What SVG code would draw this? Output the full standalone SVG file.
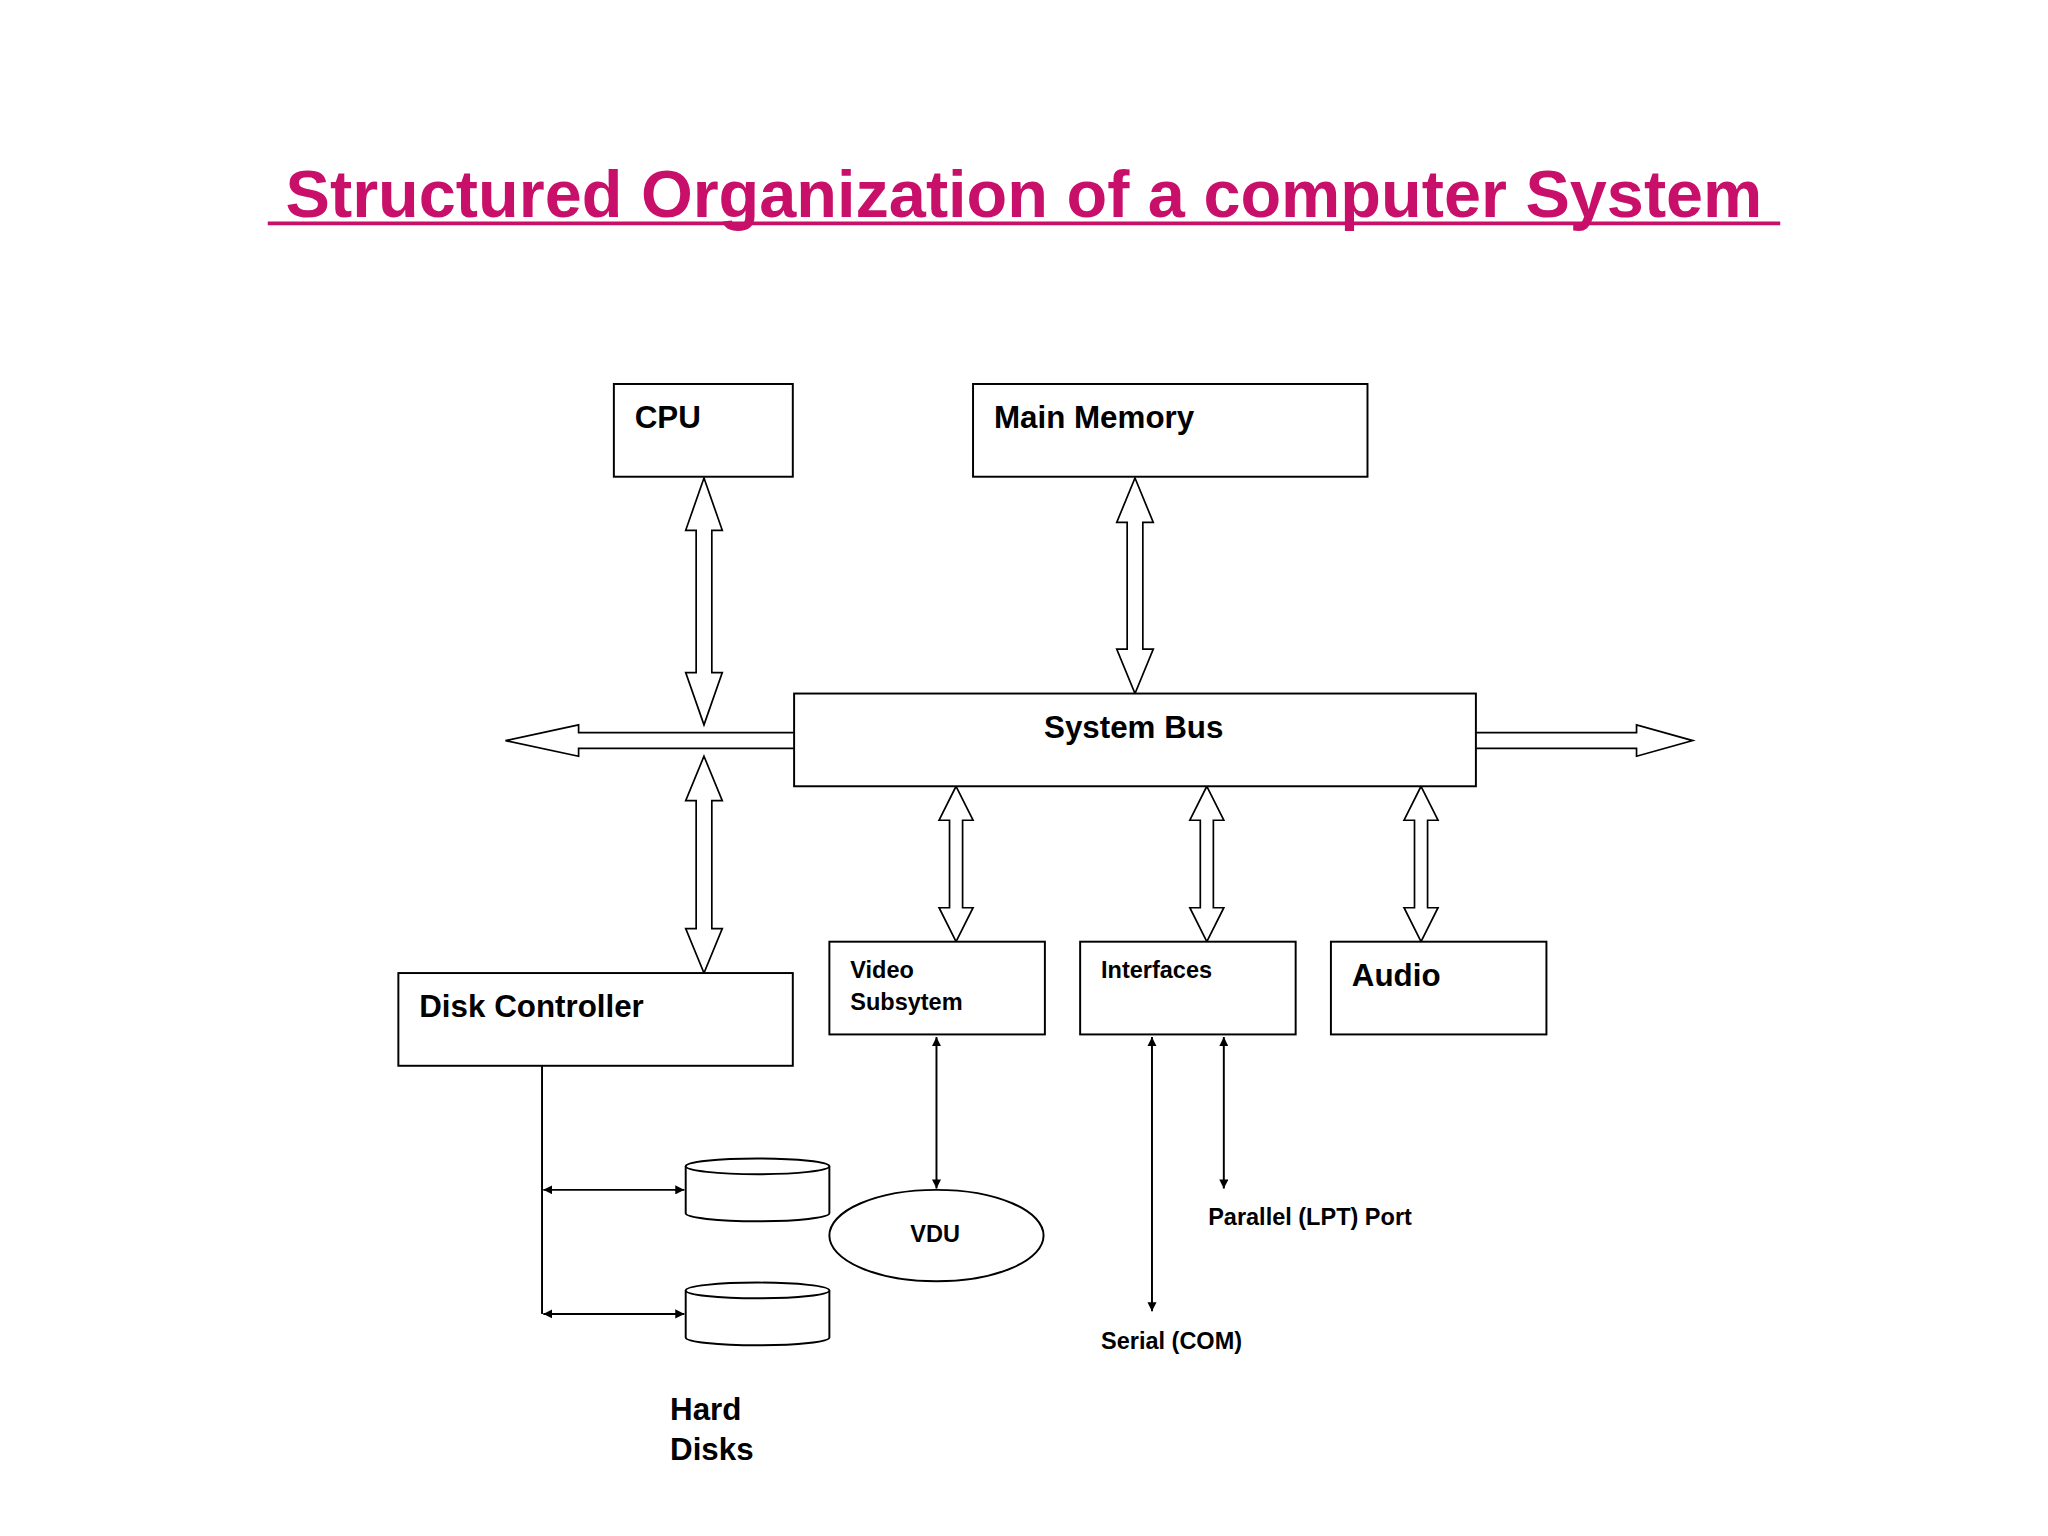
<svg xmlns="http://www.w3.org/2000/svg" width="2048" height="1536" viewBox="0 0 2048 1536">
<defs>
<style>
.box{fill:#fff;stroke:#000;stroke-width:1.5}
.blk{fill:#fff;stroke:#000;stroke-width:1.3}
.ln{fill:none;stroke:#000;stroke-width:1.5}
.t{font-family:"Liberation Sans",Arial,sans-serif;font-weight:bold;fill:#000}
.big{font-size:24px}
.sm{font-size:18px}
</style>
<marker id="ah" viewBox="0 0 10 10" refX="10" refY="5" markerWidth="7" markerHeight="7" orient="auto-start-reverse" markerUnits="userSpaceOnUse"><path d="M0,0 L10,5 L0,10 Z" fill="#000"/></marker>
</defs>
<rect width="2048" height="1536" fill="#fff"/>
<g transform="scale(1.3061)">
<g id="title"><text x="784" y="166" text-anchor="middle" font-family="'Liberation Sans',Arial,sans-serif" font-weight="bold" font-size="51" fill="#C8106A">Structured Organization of a computer System</text><line x1="205" y1="171" x2="1363" y2="171" stroke="#C8106A" stroke-width="3"/></g>
<g id="connectors">
<path class="blk" d="M539,366 L553,406 L545,406 L545,515 L553,515 L539,555 L525,515 L533,515 L533,406 L525,406 Z"/>
<path class="blk" d="M869,366 L883,400 L875,400 L875,497 L883,497 L869,531 L855,497 L863,497 L863,400 L855,400 Z"/>
<path class="blk" d="M539,579 L553,613 L545,613 L545,711 L553,711 L539,745 L525,711 L533,711 L533,613 L525,613 Z"/>
<path class="blk" d="M732,602 L745,628 L737,628 L737,695 L745,695 L732,721 L719,695 L727,695 L727,628 L719,628 Z"/>
<path class="blk" d="M924,602 L937,628 L929,628 L929,695 L937,695 L924,721 L911,695 L919,695 L919,628 L911,628 Z"/>
<path class="blk" d="M1088,602 L1101,628 L1093,628 L1093,695 L1101,695 L1088,721 L1075,695 L1083,695 L1083,628 L1075,628 Z"/>
<path class="blk" d="M608,561 L443,561 L443,555 L387,567 L443,579 L443,573 L608,573"/>
<path class="blk" d="M1130,561 L1253,561 L1253,555 L1296,567 L1253,579 L1253,573 L1130,573"/>
<line class="ln" x1="415" y1="816" x2="415" y2="1006"/>
<line class="ln" x1="416" y1="911" x2="524" y2="911" marker-start="url(#ah)" marker-end="url(#ah)"/>
<line class="ln" x1="416" y1="1006" x2="524" y2="1006" marker-start="url(#ah)" marker-end="url(#ah)"/>
<line class="ln" x1="717" y1="794" x2="717" y2="910" marker-start="url(#ah)" marker-end="url(#ah)"/>
<line class="ln" x1="882" y1="794" x2="882" y2="1004" marker-start="url(#ah)" marker-end="url(#ah)"/>
<line class="ln" x1="937" y1="794" x2="937" y2="910" marker-start="url(#ah)" marker-end="url(#ah)"/>
</g>
<g id="cpu"><rect class="box" x="470" y="294" width="137" height="71"/><text class="t big" x="486" y="328">CPU</text></g>
<g id="memory"><rect class="box" x="745" y="294" width="302" height="71"/><text class="t big" x="761" y="328">Main Memory</text></g>
<g id="bus"><rect class="box" x="608" y="531" width="522" height="71"/><text class="t big" x="868" y="565" text-anchor="middle">System Bus</text></g>
<g id="disk"><rect class="box" x="305" y="745" width="302" height="71"/><text class="t big" x="321" y="779">Disk Controller</text></g>
<g id="video"><rect class="box" x="635" y="721" width="165" height="71"/><text class="t sm" x="651" y="749">Video</text><text class="t sm" x="651" y="773">Subsytem</text></g>
<g id="interfaces"><rect class="box" x="827" y="721" width="165" height="71"/><text class="t sm" x="843" y="749">Interfaces</text></g>
<g id="audio"><rect class="box" x="1019" y="721" width="165" height="71"/><text class="t big" x="1035" y="755">Audio</text></g>
<g id="vdu"><ellipse class="box" cx="717" cy="946" rx="82" ry="35"/><text class="t sm" x="697" y="951" font-size="20">VDU</text></g>
<g id="disk1"><path class="box" d="M525,893 L525,929 A55,6 0 0 0 635,929 L635,893"/><ellipse class="box" cx="580" cy="893" rx="55" ry="6"/></g>
<g id="disk2"><path class="box" d="M525,988 L525,1024 A55,6 0 0 0 635,1024 L635,988"/><ellipse class="box" cx="580" cy="988" rx="55" ry="6"/></g>
<g id="labels">
<text class="t sm" x="925" y="938">Parallel (LPT) Port</text>
<text class="t sm" x="843" y="1033">Serial (COM)</text>
<text class="t big" x="513" y="1087">Hard</text>
<text class="t big" x="513" y="1118">Disks</text>
</g>
</g>
</svg>
